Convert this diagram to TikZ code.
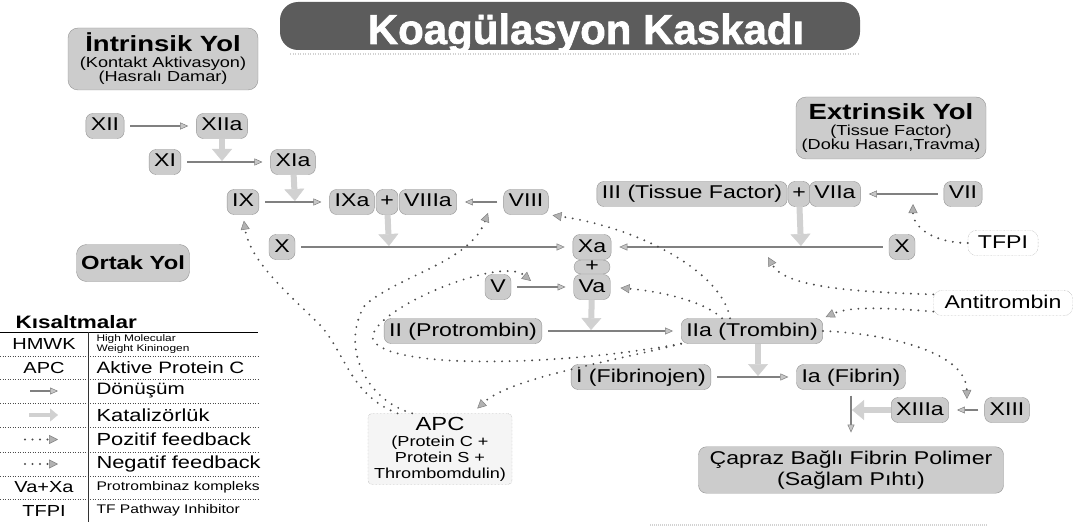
\documentclass[tikz,border=0pt]{standalone}
\usepackage{fontspec}
\setmainfont{Liberation Sans}[FakeStretch=1.25]
\newfontfamily\titlefont{Liberation Sans}[BoldFeatures={FakeBold=1.5}]
\usepackage{tikz}
\usetikzlibrary{arrows.meta}
\definecolor{boxgray}{gray}{0.80}
\definecolor{rimgray}{gray}{0.58}
\definecolor{titlegray}{gray}{0.36}
\definecolor{dotgray}{gray}{0.30}
\definecolor{catgray}{gray}{0.82}
\newcommand{\fsz}[2]{\fontsize{#1}{#2}\selectfont}
\tikzstyle{factor}=[draw=rimgray,fill=boxgray,rounded corners=7pt,inner xsep=5pt,inner ysep=4pt,
  text height=13.5pt,text depth=3.5pt,minimum width=26pt,font=\fsz{18.5}{22}]
\tikzstyle{plusbox}=[factor,inner xsep=2pt,minimum width=22pt]
\tikzstyle{inhib}=[draw=rimgray,densely dotted,fill=white,rounded corners=8pt,inner xsep=10pt,inner ysep=4pt,
  text height=13.5pt,text depth=3.5pt,font=\fsz{18.5}{22}]
\tikzstyle{pathbox}=[draw=rimgray,fill=boxgray,rounded corners=10pt,align=center,inner sep=4pt]
\tikzstyle{conv}=[draw=gray,line width=1.1pt,shorten <=6pt,shorten >=8pt,
  -{Triangle[length=8pt,width=7pt,fill=gray!45,line width=0.5pt]}]
\tikzstyle{cata}=[draw=catgray,line width=6pt,shorten >=1pt,
  -{Triangle[length=12pt,width=20pt,line width=0.5pt]}]
\tikzstyle{feed}=[draw=dotgray,line width=2.1pt,line cap=round,dash pattern=on 0pt off 7.5pt,
  -{Triangle[length=9pt,width=9pt,fill=gray!60,color=gray,line width=0.5pt]}]

\begin{document}
\begin{tikzpicture}[x=1pt,y=-1pt]
\useasboundingbox (0,0) rectangle (1085,532);

% title and the three pathway labels
\draw[gray!35,line width=2pt,dash pattern=on 1pt off 1.5pt] (290,54) -- (858,54);
\node[fill=titlegray,rounded corners=18pt,minimum width=580pt,minimum height=48pt] (titlebox) at (570,26) {};
\node[anchor=base,text=white,font=\titlefont\bfseries\fsz{42}{45}] (title) at (586,44) {Koagülasyon Kaskadı};
\node[pathbox,minimum width=190pt,minimum height=62pt,font=\fsz{14.5}{15}] (intr) at (163,59)
  {{\bfseries\fsz{22}{24}İntrinsik Yol}\\[1pt](Kontakt Aktivasyon)\\[-1pt](Hasralı Damar)};
\node[pathbox,minimum width=190pt,minimum height=62pt,font=\fsz{14.5}{15}] (extr) at (891,128)
  {{\bfseries\fsz{22}{24}Extrinsik Yol}\\[1pt](Tissue Factor)\\[-1pt](Doku Hasarı,Travma)};
\node[pathbox,minimum width=113pt,minimum height=37pt,font=\bfseries\fsz{19}{21}] (ortak) at (133,263) {Ortak Yol};

% factors
\foreach \place/\name in {{(387,202)/pA},
                          {(799,194)/pC}}
  \node[plusbox] (\name) at \place {+};
\node[plusbox,text height=9pt,text depth=1pt,inner ysep=2pt,minimum width=36pt] (pB) at (592,267) {+};
\foreach \place/\name/\lab in {{(105,126)/XII/XII},
                               {(222,126)/XIIa/XIIa},
                               {(165,162)/XI/XI},
                               {(293,162)/XIa/XIa},
                               {(243,202)/IX/IX},
                               {(352,202)/IXa/IXa},
                               {(428,202)/VIIIa/VIIIa},
                               {(526,202)/VIII/VIII},
                               {(282,247)/X/X},
                               {(592,247)/Xa/Xa},
                               {(592,287)/Va/Va},
                               {(692,194)/III/III (Tissue Factor)},
                               {(835,194)/VIIa/VIIa},
                               {(963,194)/VII/VII},
                               {(902,247)/Xr/X},
                               {(498,287)/V/V},
                               {(463,331)/II/II (Protrombin)},
                               {(752,331)/IIa/IIa (Trombin)},
                               {(641,377)/I/I (Fibrinojen)},
                               {(851,377)/Ia/Ia (Fibrin)},
                               {(920,410)/XIIIa/XIIIa},
                               {(1007,410)/XIII/XIII}}
  \node[factor] (\name) at \place {\lab};
\node[inhib] (TFPI) at (1003,243) {TFPI};
\node[inhib,inner xsep=11pt] (Antitrombin) at (1003,303) {Antitrombin};
\node[pathbox,rounded corners=8pt,minimum width=305pt,minimum height=44pt,font=\fsz{18.5}{21}] (capraz) at (851,470)
  {Çapraz Bağlı Fibrin Polimer\\(Sağlam Pıhtı)};
\node[draw=rimgray,densely dotted,fill=gray!8,rounded corners=4pt,align=center,
  minimum width=144pt,minimum height=66pt,font=\fsz{14.5}{16}] (APC) at (440,449)
  {{\fsz{19}{20}APC}\\(Protein C +\\Protein S +\\Thrombomdulin)};

% points on the conversion arrows
\coordinate (cXI) at (222,162);
\coordinate (cIX) at (295,202);
\coordinate (cX) at (389,247);
\coordinate (cXr) at (801,247);
\coordinate (cII) at (591,331);
\coordinate (cI) at (758,377);
\coordinate (cIa) at (851,410);
\coordinate (fVIII) at (488,213);
\coordinate (fV) at (531,281);
\coordinate (fXr) at (768,257);
\coordinate (fXIII) at (967,399);
\coordinate (fVII) at (913,204);

% catalysis
\draw[cata] (XIIa) -- (cXI);
\draw[cata] (XIa) -- (cIX);
\draw[cata] (pA) -- (cX);
\draw[cata] (pC) -- (cXr);
\draw[cata] (Va) -- (cII);
\draw[cata] (IIa.south -| cI) -- (cI);
\draw[cata] (XIIIa) -- (cIa);

% conversion
\draw[conv] (XII) -- (XIIa);
\draw[conv] (XI) -- (XIa);
\draw[conv] (IX) -- (IXa);
\draw[conv] (VIII) -- (VIIIa);
\draw[conv] (X) -- (Xa);
\draw[conv] (VII) -- (VIIa);
\draw[conv] (Xr) -- (Xa);
\draw[conv] (V) -- (Va);
\draw[conv] (II) -- (IIa);
\draw[conv] (I) -- (Ia);
\draw[conv] (XIII) -- (XIIIa);
\draw[conv,shorten >=14pt] (Ia) -- (capraz);

% feedback
\draw[feed,shorten >=6pt] (APC.140) .. controls (350,395) and (345,352) .. (320,325)
                               .. controls (290,295) and (250,262) .. (IX.south);
\draw[feed] (APC.128) .. controls (365,400) and (340,345) .. (365,305)
                      .. controls (400,275) and (470,262) .. (fVIII);
\draw[feed] (IIa.south west) .. controls (560,366) and (390,370) .. (373,340)
                             .. controls (365,312) and (500,255) .. (fV);
\draw[feed,shorten >=7pt] (IIa.south west) .. controls (610,362) and (510,378) .. (APC.48);
\draw[feed,shorten >=4pt] (IIa.150) .. controls (722,272) and (640,228) .. (VIII.south east);
\draw[feed,shorten >=10pt] (IIa.157) .. controls (705,302) and (665,292) .. (Va.east);
\draw[feed] (Antitrombin.173) .. controls (860,292) and (785,288) .. (fXr);
\draw[feed,shorten >=3pt] (Antitrombin.187) .. controls (890,308) and (850,306) .. (IIa.north east);
\draw[feed] (IIa.east) .. controls (880,333) and (966,350) .. (fXIII);
\draw[feed] (TFPI.west) .. controls (935,243) and (913,228) .. (fVII);

% abbreviations
\node[anchor=west,font=\bfseries\fsz{18}{20}] (kisalt) at (12,322) {Kısaltmalar};
\draw[black,line width=1pt] (0,332) -- (258,332);
\foreach \y in {356,379,403,427,452,476,499}
  \draw[black!70,line width=0.6pt,dash pattern=on 1pt off 1.5pt] (0,\y) -- (258,\y);
\draw[black!80,line width=0.8pt] (88,332) -- (88,522);
\foreach \y/\name/\lab in {344/abA/HMWK, 367.5/abB/APC, 487.5/abG/Va+Xa, 510.5/abH/TFPI}
  \node[font=\fsz{16}{18}] (\name) at (44,\y) {\lab};
\node[anchor=west,align=left,font=\fsz{9.5}{10}] (txA) at (93,344) {High Molecular\\Weight Kininogen};
\foreach \y/\name/\lab in {367.5/txB/Aktive Protein C, 391/txC/Dönüşüm}
  \node[anchor=west,font=\fsz{16.5}{18}] (\name) at (93,\y) {\lab};
\foreach \y/\name/\lab in {415/txD/Katalizörlük, 439.5/txE/Pozitif feedback, 464/txF/Negatif feedback}
  \node[anchor=west,font=\fsz{17.5}{19}] (\name) at (93,\y) {\lab};
\foreach \y/\name/\lab in {487.5/txG/Protrombinaz kompleks, 510.5/txH/TF Pathway Inhibitor}
  \node[anchor=west,font=\fsz{12.5}{14}] (\name) at (93,\y) {\lab};
\coordinate (lgA1) at (30,391); \coordinate (lgA2) at (58,391);
\coordinate (lgB1) at (29,415); \coordinate (lgB2) at (58,415);
\coordinate (lgC1) at (25,439.5); \coordinate (lgC2) at (58,439.5);
\coordinate (lgD1) at (25,464); \coordinate (lgD2) at (58,464);
\draw[conv,shorten <=0pt,shorten >=0pt] (lgA1) -- (lgA2);
\draw[cata,line width=3.5pt,shorten >=0pt,-{Triangle[length=8pt,width=13pt,line width=0.4pt]}] (lgB1) -- (lgB2);
\draw[feed] (lgC1) -- (lgC2);
\draw[feed] (lgD1) -- (lgD2);

\draw[gray!35,line width=2pt,dash pattern=on 1pt off 1pt] (650,525) -- (988,525);
\end{tikzpicture}
\end{document}
